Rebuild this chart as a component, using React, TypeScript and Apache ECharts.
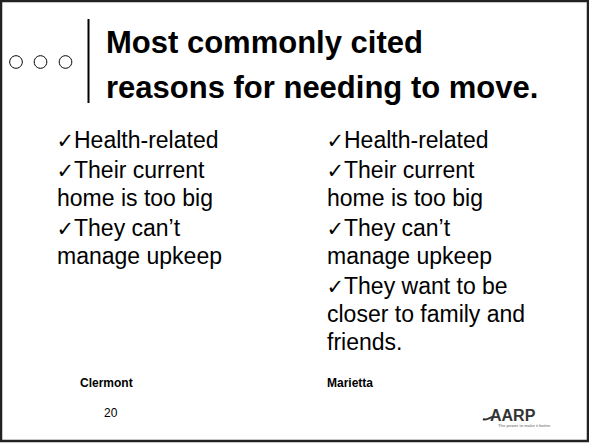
import React, { useEffect, useRef } from "react";
import * as echarts from "echarts";

// ---- content ----
const titleLines = ["Most commonly cited", "reasons for needing to move."];
// each bullet is a paragraph made of its wrapped lines
const clermontItems = [
  ["Health-related"],
  ["Their current", "home is too big"],
  ["They can’t", "manage upkeep"],
];
const mariettaItems = [
  ["Health-related"],
  ["Their current", "home is too big"],
  ["They can’t", "manage upkeep"],
  ["They want to be", "closer to family and", "friends."],
];
const checkMark = "✓";
const columnLabels = ["Clermont", "Marietta"];
const slideNumber = "20";
const logoText = "AARP";
const logoTagline = "The power to make it better.";

const FONT = "'Liberation Sans', Arial, 'DejaVu Sans', sans-serif";

export default function App() {
  const ref = useRef<HTMLDivElement>(null);
  useEffect(() => {
    if (!ref.current) return;
    const chart = echarts.init(ref.current, undefined, { renderer: "svg" });

    const elements: any[] = [];
    // frame
    elements.push({
      type: "rect",
      shape: { x: 1, y: 1, width: 587, height: 440 },
      style: { fill: "#fff", stroke: "#222", lineWidth: 2.5 },
    });
    // three circles
    [16, 40.5, 65.5].forEach((cx) =>
      elements.push({
        type: "circle",
        shape: { cx, cy: 62, r: 6.3 },
        style: { fill: "none", stroke: "#000", lineWidth: 1 },
      })
    );
    // vertical rule
    elements.push({
      type: "line",
      shape: { x1: 88.5, y1: 19, x2: 88.5, y2: 103 },
      style: { stroke: "#000", lineWidth: 2 },
    });
    // title
    titleLines.forEach((t, i) =>
      elements.push({
        type: "text",
        x: 106,
        y: 42 + i * 45,
        style: {
          text: t,
          font: `bold 31px ${FONT}`,
          fill: "#000",
          textVerticalAlign: "middle",
        },
      })
    );
    // columns
    const colX = [57, 327];
    const lineH = 28;
    const paraGap = 2;
    [clermontItems, mariettaItems].forEach((items, c) => {
      let base = 148.5; // baseline of first line
      items.forEach((lines, p) => {
        if (p > 0) base += paraGap;
        lines.forEach((t, i) => {
          const cy = base - 8.2;
          if (i === 0) {
            elements.push({
              type: "text",
              x: colX[c] - 0.5,
              y: cy + 0.5,
              style: {
                text: checkMark,
                font: `21px ${FONT}`,
                fill: "#000",
                textVerticalAlign: "middle",
              },
            });
          }
          elements.push({
            type: "text",
            x: i === 0 ? colX[c] + 17 : colX[c],
            y: cy,
            style: {
              text: t,
              font: `23px ${FONT}`,
              fill: "#000",
              textVerticalAlign: "middle",
            },
          });
          base += lineH;
        });
      });
    });
    // column labels
    columnLabels.forEach((t, c) =>
      elements.push({
        type: "text",
        x: [80, 327][c],
        y: 383,
        style: {
          text: t,
          font: `bold 12px ${FONT}`,
          fill: "#000",
          textVerticalAlign: "middle",
        },
      })
    );
    // slide number
    elements.push({
      type: "text",
      x: 104,
      y: 413,
      style: {
        text: slideNumber,
        font: `12px ${FONT}`,
        fill: "#000",
        textVerticalAlign: "middle",
      },
    });
    // logo
    elements.push({
      type: "bezierCurve",
      shape: { x1: 483, y1: 419, x2: 493, y2: 417, cpx1: 487, cpy1: 421, cpx2: 490, cpy2: 417 },
      style: { stroke: "#333", lineWidth: 2, fill: "none" },
    });
    elements.push({
      type: "text",
      x: 490,
      y: 415,
      style: {
        text: logoText,
        font: `bold 16px ${FONT}`,
        fill: "#333",
        textVerticalAlign: "middle",
      },
    });
    elements.push({
      type: "text",
      x: 498,
      y: 425,
      style: {
        text: logoTagline,
        font: `4.3px ${FONT}`,
        fill: "#666",
        textVerticalAlign: "middle",
      },
    });

    chart.setOption({
      animation: false,
      backgroundColor: "#fff",
      graphic: { elements },
    });
    return () => chart.dispose();
  }, []);
  return (
    <div
      ref={ref}
      style={{ position: "fixed", left: 0, top: 0, width: 589, height: 445 }}
    />
  );
}
